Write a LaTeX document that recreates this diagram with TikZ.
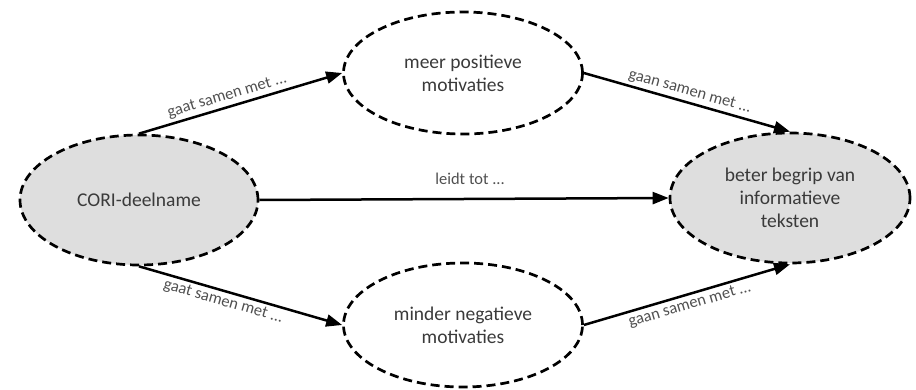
\documentclass[tikz,border=0pt]{standalone}
\usepackage{fontspec}
\setmainfont{Carlito}
\usetikzlibrary{shapes.geometric,arrows.meta}
\definecolor{nodegray}{HTML}{DEDEDE}
\definecolor{txt}{HTML}{3A3A3A}
\definecolor{lbl}{HTML}{505050}
\tikzset{
  oval/.style={ellipse, draw=black, line width=2.7pt, dash pattern=on 9pt off 5pt,
    inner sep=0pt, align=center, font=\fontsize{19.5}{23}\selectfont, text=txt},
  filled/.style={oval, fill=nodegray},
  conn/.style={line width=2.5pt, -{Triangle[length=16pt,width=12pt]}},
  elabel/.style={font=\fontsize{16.5}{19}\selectfont, text=lbl, sloped, inner sep=3pt}
}
\begin{document}
\begin{tikzpicture}[x=1pt,y=-1pt]
\useasboundingbox (0,0) rectangle (916,390);
\node[filled, minimum width=238pt, minimum height=130pt] (L) at (139,200) {CORI-deelname};
\node[oval, minimum width=239pt, minimum height=122pt] (T) at (463,73) {meer positieve\\motivaties};
\node[oval, minimum width=239pt, minimum height=124pt] (B) at (463,325) {minder negatieve\\motivaties};
\node[filled, minimum width=240pt, minimum height=130pt] (R) at (790,198) {beter begrip van\\informatieve\\teksten};
\draw[conn] (L.north) -- node[elabel, above, pos=0.45] {gaat samen met ...} (T.west);
\draw[conn] (T.east) -- node[elabel, above, pos=0.5] {gaan samen met ...} (R.north);
\draw[conn] (L.east) -- node[elabel, above, pos=0.515, yshift=10pt] {leidt tot ...} (R.west);
\draw[conn] (L.south) -- node[elabel, below, pos=0.43] {gaat samen met ...} (B.west);
\draw[conn] (B.east) -- node[elabel, below, pos=0.5] {gaan samen met ...} (R.south);
\end{tikzpicture}
\end{document}
